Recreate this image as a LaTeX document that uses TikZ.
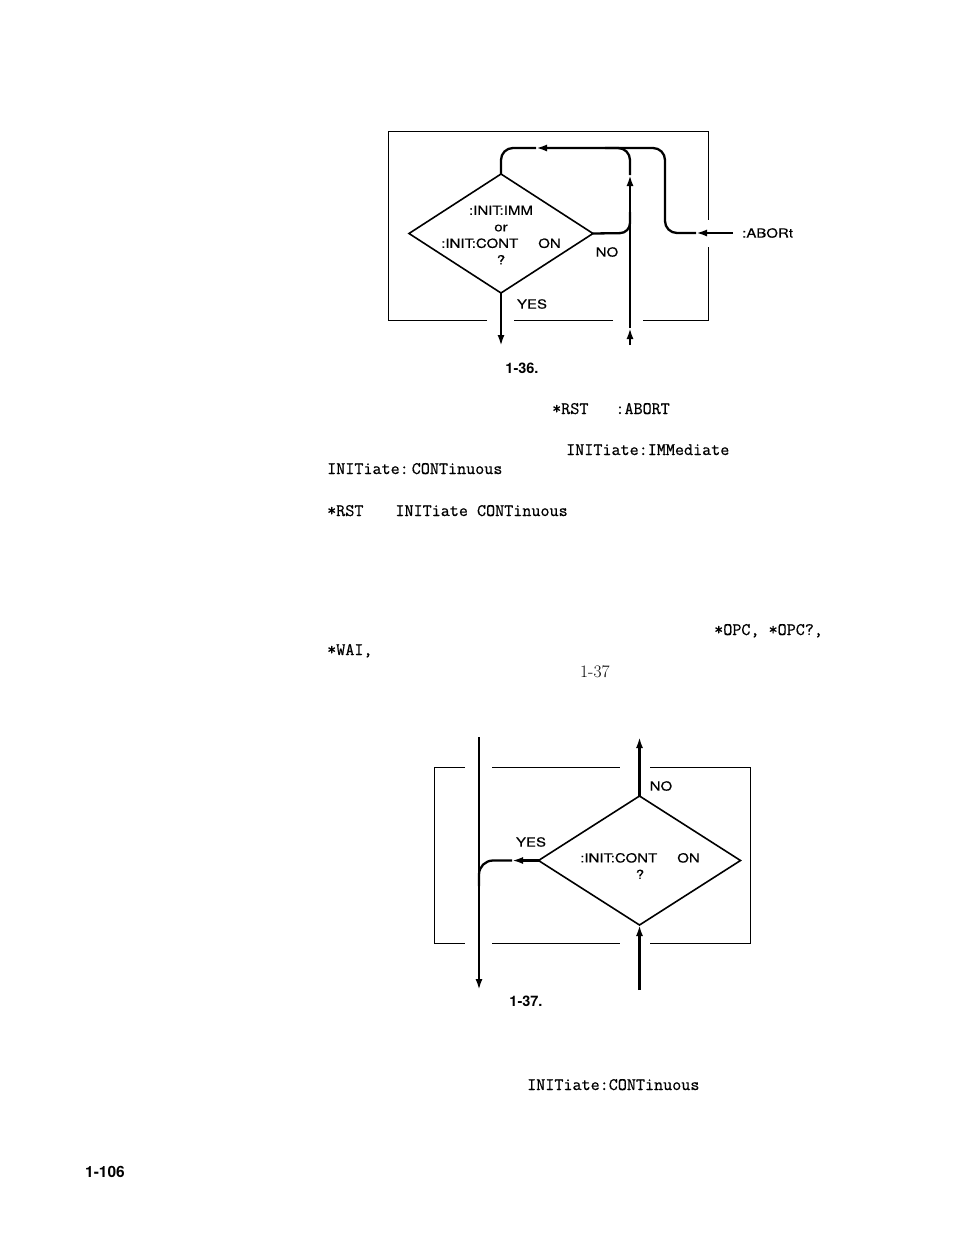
\documentclass[tikz,border=0pt]{standalone}
\usepackage{fontspec}
\newfontfamily\dfont[FakeStretch=1.2,FakeBold=0.4]{TeX Gyre Heros}
\newfontfamily\capfont{TeX Gyre Heros}
\newfontfamily\tfont[FakeBold=0.6]{Latin Modern Mono}
\usetikzlibrary{arrows.meta,shapes.geometric}
\tikzset{
  flow/.style={line width=2.3pt, line cap=butt},
  tipped/.style={flow, -{Latex[length=11pt,width=7pt]}},
  boxline/.style={line width=0.9pt},
  dia/.style={diamond, draw, line width=1.6pt, inner sep=0pt, outer sep=0pt},
  dlabel/.style={font=\dfont\fontsize{12.5pt}{16.5pt}\selectfont, inner sep=0pt, align=center},
  mono/.style={font=\tfont\fontsize{17.6pt}{17.6pt}\selectfont, inner sep=0pt, anchor=base west},
  caption/.style={font=\capfont\bfseries\fontsize{14.5pt}{14.5pt}\selectfont, inner sep=0pt}
}
\begin{document}
\begin{tikzpicture}[x=1pt,y=-1pt]
\useasboundingbox[fill=white] (0,0) rectangle (960,1242);

% ---------------- Figure 1-36 ----------------
\draw[boxline] (388,320) -- (388,131) -- (708,131) -- (708,220);
\draw[boxline] (708,247) -- (708,320) -- (643,320);
\draw[boxline] (613,320) -- (514,320);
\draw[boxline] (487,320) -- (388,320);

\node[dia, minimum width=184pt, minimum height=119pt] (d1) at (501,233.5) {};
\node[dlabel] (d1t) at (501,235) {:INIT:IMM\\or\\:INIT:CONT\hspace{20pt}ON\\?};

\coordinate (abin) at (733,233);
\coordinate (abarr) at (696,233);
\coordinate (abc1) at (665,233);
\coordinate (abc2) at (665,148);
\coordinate (toparr) at (536,148);
\coordinate (topl) at (501,148);
\coordinate (vbot) at (630,345);
\coordinate (varr1) at (630,328);
\coordinate (varr2) at (630,175);
\coordinate (vtop) at (630,148);
\coordinate (vjoin) at (605,148);
\coordinate (nocorner) at (630,233);
\coordinate (nojoin) at (630,212);
\coordinate (yesend) at (501,346);

\draw[tipped] (abin) -- (abarr);
\draw[tipped, rounded corners=12pt] (abarr) -- (abc1) -- (abc2) -- (toparr);
\draw[flow, rounded corners=12pt] (toparr) -- (topl) -- (d1.north);
\draw[tipped] (vbot) -- (varr1);
\draw[tipped] (varr1) -- (varr2);
\draw[flow, rounded corners=12pt] (varr2) -- (vtop) -- (vjoin);
\draw[flow, rounded corners=10pt] (d1.east) -- (nocorner) -- (nojoin);
\draw[tipped] (d1.south) -- (yesend);

\node[dlabel] (abortlbl) [anchor=west] at (742,233) {:ABORt};
\node[dlabel] (no1) at (607,252) {NO};
\node[dlabel] (yes1) at (532,304) {YES};
\node[caption] (cap1) at (522,368) {1-36.};

% ---------------- text lines ----------------
\node[mono] (t1) at (552,414) {*RST\hspace{27pt}:ABORT};
\node[mono] (t2) at (566,455) {INITiate:IMMediate};
\node[mono] (t3) at (327,474) {INITiate:\hspace{3pt}CONTinuous};
\node[mono] (t4) at (327,516) {*RST\hspace{32pt}INITiate CONTinuous};
\node[mono] (t5) at (714,635) {*OPC, *OPC?,};
\node[mono] (t6) at (327,655) {*WAI,};
\node[font=\fontsize{17.5pt}{17.5pt}\selectfont, inner sep=0pt, anchor=base west] (t7) at (580,677) {1-37};

% ---------------- Figure 1-37 ----------------
\draw[boxline] (465,767) -- (434,767) -- (434,943) -- (465,943);
\draw[boxline] (492,767) -- (620,767);
\draw[boxline] (492,943) -- (620,943);
\draw[boxline] (650,767) -- (750,767) -- (750,943) -- (650,943);

\node[dia, minimum width=202pt, minimum height=129pt] (d2) at (639.5,860.5) {};
\node[dlabel] (d2t) at (640,866) {:INIT:CONT\hspace{20pt}ON\\?};

\coordinate (lvtop) at (479,737);
\coordinate (lvbot) at (479,990);
\coordinate (yarr) at (512,860.5);
\coordinate (ycorner) at (479,860.5);
\coordinate (yjoin) at (479,886);
\coordinate (notop) at (639.5,737);
\coordinate (inbot) at (639.5,990);

\draw[tipped] (lvtop) -- (lvbot);
\draw[tipped] (d2.west) -- (yarr);
\draw[flow, rounded corners=14pt] (yarr) -- (ycorner) -- (yjoin);
\draw[tipped] (d2.north) -- (notop);
\draw[tipped] (inbot) -- (d2.south);

\node[dlabel] (no2) at (661,786) {NO};
\node[dlabel] (yes2) at (531,842) {YES};
\node[caption] (cap2) at (526,1001) {1-37.};

\node[mono] (t8) at (527,1090) {INITiate:CONTinuous};

\node[caption, font=\capfont\bfseries\fontsize{15.5pt}{15.5pt}\selectfont] (pg) at (105,1172) {1-106};
\end{tikzpicture}
\end{document}
